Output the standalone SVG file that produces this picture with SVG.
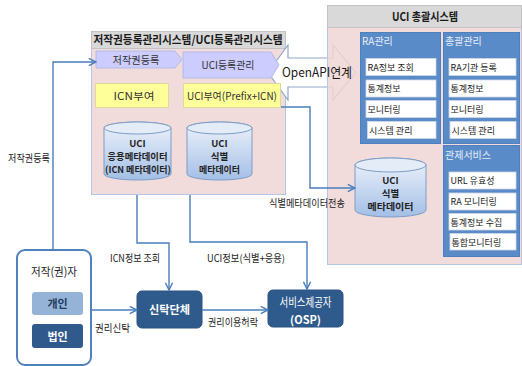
<svg xmlns="http://www.w3.org/2000/svg" width="522" height="366" viewBox="0 0 522 366">
  <defs>
    <style>
      text { font-family: 'Noto Sans CJK KR', 'Noto Sans', sans-serif; }
      .hdr { fill: #d9d9d9; stroke: #c3c3c3; stroke-width: 1; }
      .sysbody { fill: #f2dcdb; stroke: #b3c6e7; stroke-width: 1; }
      .hdrtxt { font-size: 11.5px; font-weight: bold; fill: #1a1a1a; text-anchor: middle; }
      .step { fill: #ccccff; stroke: #b0bce6; stroke-width: 1; }
      .steptxt { font-size: 10.5px; fill: #333; text-anchor: middle; }
      .yel { fill: #ffff99; stroke: #dcdc9a; stroke-width: 1; }
      .yeltxt { font-size: 10.5px; fill: #333; text-anchor: middle; }
      .cylbody { fill: url(#cylGrad); stroke: #7d9cc6; stroke-width: 1; }
      .cyltop { fill: #e4ecf7; stroke: #7d9cc6; stroke-width: 1; }
      .cyltxt { font-size: 9.5px; font-weight: bold; fill: #1f1f1f; text-anchor: middle; }
      .panel { fill: #5a8bc9; stroke: #4f7fbd; stroke-width: 1; }
      .ptitle { font-size: 10px; fill: #e8eef8; }
      .item { fill: #ffffff; stroke: #d0d8e6; stroke-width: 0.8; }
      .itxt { font-size: 9px; fill: #222; }
      .dark { fill: #2f5b8c; stroke: #2a5281; stroke-width: 1; }
      .wtxt { fill: #ffffff; font-weight: bold; text-anchor: middle; }
      .conn { fill: none; stroke: #4a7ebb; stroke-width: 1.4; marker-end: url(#arr); }
      .lbl { font-size: 10px; fill: #222; }
    </style>
    <linearGradient id="cylGrad" x1="0" y1="0" x2="0" y2="1">
      <stop offset="0" stop-color="#eef3fb"/>
      <stop offset="1" stop-color="#a3bfe6"/>
    </linearGradient>
    <marker id="arr" viewBox="0 0 10 10" refX="9" refY="5" markerWidth="9" markerHeight="9" markerUnits="userSpaceOnUse" orient="auto">
      <path d="M1,1 L9,5 L1,9" fill="none" stroke="#4a7ebb" stroke-width="1.6"/>
    </marker>
  </defs>

  <!-- Copyright / UCI registration system -->
  <g id="reg-system">
    <rect class="sysbody" x="91.5" y="48.5" width="194" height="146"/>
    <rect class="hdr" x="91.5" y="31.5" width="194" height="17"/>
    <text class="hdrtxt" x="188" y="44" textLength="189" lengthAdjust="spacingAndGlyphs">저작권등록관리시스템/UCI등록관리시스템</text>
  </g>

  <!-- OpenAPI link (double arrow between the two systems) -->
  <g id="openapi-arrow">
    <polygon points="268,72.5 288,45 288,58 333,58 333,45 356,72.5 333,100 333,87 288,87 288,100" fill="#ffffff" stroke="#8fa8c8" stroke-width="1.2"/>
  </g>

  <!-- UCI central system -->
  <g id="central-system">
    <rect x="327.5" y="27.5" width="194" height="237" fill="#f0d6d5" fill-opacity="0.85" stroke="#b3c6e7" stroke-width="1"/>
    <rect class="hdr" x="327.5" y="5.5" width="194" height="22"/>
    <text class="hdrtxt" x="425" y="21" font-size="12" textLength="66" lengthAdjust="spacingAndGlyphs">UCI 총괄시스템</text>
  </g>

  <g id="step-register">
    <polygon class="step" points="96,51 175,51 182,59.5 175,68 96,68"/>
    <text class="steptxt" x="136" y="63.5" textLength="47" lengthAdjust="spacingAndGlyphs">저작권등록</text>
  </g>
  <g id="step-uci-register">
    <polygon class="step" points="183,52 271,52 279,65 271,78 183,78"/>
    <text class="steptxt" x="228" y="69" textLength="53" lengthAdjust="spacingAndGlyphs">UCI등록관리</text>
  </g>
  <g id="icn-assign">
    <rect class="yel" x="95.5" y="83.5" width="73" height="24"/>
    <text class="yeltxt" x="134" y="99.5" textLength="41" lengthAdjust="spacingAndGlyphs">ICN부여</text>
  </g>
  <g id="uci-assign">
    <rect class="yel" x="183.5" y="83.5" width="97" height="24"/>
    <text class="yeltxt" x="232" y="99.5" textLength="90" lengthAdjust="spacingAndGlyphs">UCI부여(Prefix+ICN)</text>
  </g>

  <g id="db-app-meta">
    <path class="cylbody" d="M104,128 V174 A33.5,6 0 0 0 171,174 V128 A33.5,6 0 0 0 104,128 Z"/>
    <ellipse class="cyltop" cx="137.5" cy="128" rx="33.5" ry="6"/>
    <text class="cyltxt" x="137.5" y="147">UCI</text>
    <text class="cyltxt" x="137.5" y="160" textLength="60" lengthAdjust="spacingAndGlyphs">응용메타데이터</text>
    <text class="cyltxt" x="138" y="173" textLength="66" lengthAdjust="spacingAndGlyphs">(ICN 메타데이터)</text>
  </g>
  <g id="db-id-meta">
    <path class="cylbody" d="M187,128 V174 A32.5,6 0 0 0 252,174 V128 A32.5,6 0 0 0 187,128 Z"/>
    <ellipse class="cyltop" cx="219.5" cy="128" rx="32.5" ry="6"/>
    <text class="cyltxt" x="219.5" y="147">UCI</text>
    <text class="cyltxt" x="219.5" y="160">식별</text>
    <text class="cyltxt" x="219.5" y="173" textLength="41" lengthAdjust="spacingAndGlyphs">메타데이터</text>
  </g>

  <!-- RA management panel -->
  <g id="panel-ra">
    <rect class="panel" x="360.5" y="32.5" width="80" height="111"/>
    <text class="ptitle" x="362" y="45">RA관리</text>
    <rect class="item" x="366" y="58.5" width="70" height="17"/>
    <text class="itxt" x="367.5" y="70.5">RA정보 조회</text>
    <rect class="item" x="366" y="80" width="70" height="17"/>
    <text class="itxt" x="367.5" y="92">통계정보</text>
    <rect class="item" x="366" y="100.5" width="70" height="17"/>
    <text class="itxt" x="367.5" y="112.5">모니터링</text>
    <rect class="item" x="367.5" y="121.5" width="68.5" height="17"/>
    <text class="itxt" x="369" y="133.5">시스템 관리</text>
  </g>

  <!-- overall management panel -->
  <g id="panel-admin">
    <rect class="panel" x="443.5" y="32.5" width="76" height="111"/>
    <text class="ptitle" x="445" y="45">총괄관리</text>
    <rect class="item" x="449" y="58.5" width="67" height="17"/>
    <text class="itxt" x="450.5" y="70.5">RA기관 등록</text>
    <rect class="item" x="449" y="80" width="67" height="17"/>
    <text class="itxt" x="450.5" y="92">통계정보</text>
    <rect class="item" x="449" y="100.5" width="67" height="17"/>
    <text class="itxt" x="450.5" y="112.5">모니터링</text>
    <rect class="item" x="450" y="121.5" width="66" height="17"/>
    <text class="itxt" x="451.5" y="133.5">시스템 관리</text>
  </g>

  <!-- monitoring service panel -->
  <g id="panel-monitor">
    <rect class="panel" x="443.5" y="145.5" width="76" height="111"/>
    <text class="ptitle" x="445" y="159">관제서비스</text>
    <rect class="item" x="449" y="172" width="67" height="17"/>
    <text class="itxt" x="450.5" y="184">URL 유효성</text>
    <rect class="item" x="449" y="193" width="67" height="17"/>
    <text class="itxt" x="450.5" y="205">RA 모니터링</text>
    <rect class="item" x="449" y="213.5" width="67" height="16.5"/>
    <text class="itxt" x="450.5" y="225.5">통계정보 수집</text>
    <rect class="item" x="450" y="233.5" width="66" height="16.5"/>
    <text class="itxt" x="451.5" y="245.5">통합모니터링</text>
  </g>

  <g id="db-central">
    <path class="cylbody" d="M355,165 V210 A35.5,7 0 0 0 426,210 V165 A35.5,7 0 0 0 355,165 Z"/>
    <ellipse class="cyltop" cx="390.5" cy="165" rx="35.5" ry="7"/>
    <text class="cyltxt" x="390.5" y="184" font-size="10">UCI</text>
    <text class="cyltxt" x="390.5" y="197" font-size="10">식별</text>
    <text class="cyltxt" x="390.5" y="210" font-size="10" textLength="46" lengthAdjust="spacingAndGlyphs">메타데이터</text>
  </g>

  <!-- rights holder -->
  <g id="author">
    <rect x="17" y="250" width="74" height="115" rx="8" fill="#ffffff" stroke="#4f81bd" stroke-width="2"/>
    <text x="54" y="276" font-size="11.5" fill="#222" text-anchor="middle" textLength="46" lengthAdjust="spacingAndGlyphs">저작(권)자</text>
    <rect x="32" y="292" width="51" height="23" rx="3" fill="#95b3d7"/>
    <text x="57.5" y="308" font-size="11" font-weight="bold" fill="#1f3a5c" text-anchor="middle">개인</text>
    <rect x="32" y="324" width="51" height="24" rx="3" fill="#30598c"/>
    <text class="wtxt" x="57.5" y="340.5" font-size="11">법인</text>
  </g>

  <g id="trust-org">
    <rect class="dark" x="137" y="291" width="65" height="37" rx="5"/>
    <text class="wtxt" x="169.5" y="314" font-size="11.5" textLength="41" lengthAdjust="spacingAndGlyphs">신탁단체</text>
  </g>

  <g id="osp">
    <rect class="dark" x="268" y="290" width="75" height="37" rx="5"/>
    <text x="305.5" y="307" font-size="12" fill="#ffffff" text-anchor="middle" textLength="52" lengthAdjust="spacingAndGlyphs">서비스제공자</text>
    <text class="wtxt" x="305.5" y="323.5" font-size="11">(OSP)</text>
  </g>

  <!-- connectors -->
  <g id="connectors">
    <path class="conn" d="M53,250 V62 H96"/>
    <path class="conn" d="M137,195 V243 H169 V290"/>
    <path class="conn" d="M190,195 V242 H307 V289"/>
    <path class="conn" d="M92,310 H137"/>
    <path class="conn" d="M202,310 H268"/>
    <path class="conn" d="M281,107 H310 V188 H355"/>
    <text class="lbl" x="8" y="161.5" textLength="42" lengthAdjust="spacingAndGlyphs">저작권등록</text>
    <text class="lbl" x="110" y="261.5" textLength="50" lengthAdjust="spacingAndGlyphs">ICN정보 조회</text>
    <text class="lbl" x="207" y="261.5" textLength="78" lengthAdjust="spacingAndGlyphs">UCI정보(식별+응용)</text>
    <text class="lbl" x="95" y="331.5" textLength="35" lengthAdjust="spacingAndGlyphs">권리신탁</text>
    <text class="lbl" x="208" y="325.5" textLength="50" lengthAdjust="spacingAndGlyphs">권리이용허락</text>
    <text class="lbl" x="269" y="206.5" textLength="76" lengthAdjust="spacingAndGlyphs">식별메타데이터전송</text>
  </g>

  <text x="282" y="77" font-size="13" fill="#1a1a1a" textLength="70" lengthAdjust="spacingAndGlyphs">OpenAPI연계</text>
</svg>
